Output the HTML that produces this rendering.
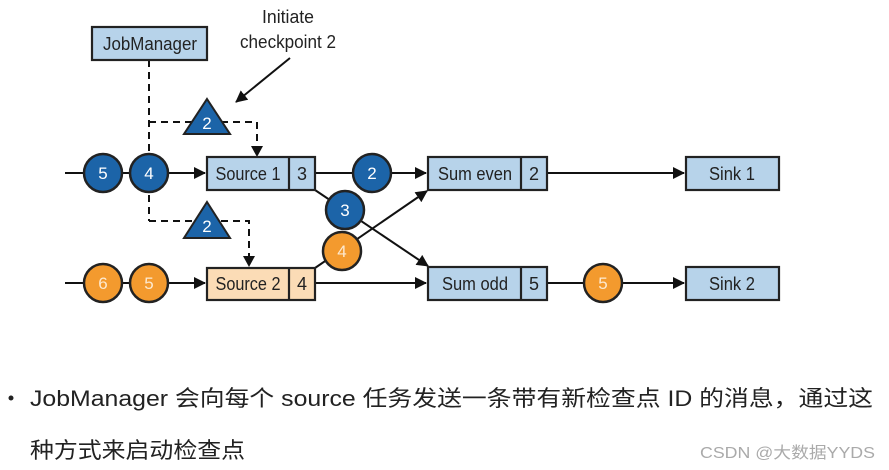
<!DOCTYPE html>
<html><head><meta charset="utf-8"><style>
html,body{margin:0;padding:0;background:#fff;width:889px;height:470px;overflow:hidden}
</style></head><body>
<svg width="889" height="470" viewBox="0 0 889 470" xmlns="http://www.w3.org/2000/svg" font-family="Liberation Sans, DejaVu Sans, sans-serif">
<defs>
<marker id="a" markerWidth="12" markerHeight="12" refX="11" refY="6" orient="auto" markerUnits="userSpaceOnUse"><path d="M0,0 L12,6 L0,12 z" fill="#111"/></marker>
</defs>
<g stroke="#111" stroke-width="2" fill="none">
<g stroke-dasharray="7,5">
<path d="M149,60 V155"/><path d="M149,195 V221"/>
<path d="M149,122 H257 V146"/><path d="M149,221 H249 V256"/>
</g>
<path d="M65,173 H205" marker-end="url(#a)"/>
<path d="M65,283 H205" marker-end="url(#a)"/>
<path d="M315,173 H426" marker-end="url(#a)"/>
<path d="M315,283 H426" marker-end="url(#a)"/>
<path d="M547,173 H684" marker-end="url(#a)"/>
<path d="M547,283 H684" marker-end="url(#a)"/>
<path d="M315,190 L428,266" marker-end="url(#a)"/>
<path d="M315,268 L427,191" marker-end="url(#a)"/>
<path d="M290,58 L236,102" marker-end="url(#a)"/>
</g>
<g fill="#111"><path d="M251,146 h12 l-6,11z"/><path d="M243,256 h12 l-6,11z"/></g>
<g stroke="#222" stroke-width="2.2">
<rect x="92" y="27" width="115" height="33" fill="#b7d3ea"/>
<rect x="207" y="157" width="108" height="33" fill="#b7d3ea"/>
<line x1="289" y1="157" x2="289" y2="190"/>
<rect x="207" y="268" width="108" height="32" fill="#fbdcb6"/>
<line x1="289" y1="268" x2="289" y2="300"/>
<rect x="428" y="157" width="119" height="33" fill="#b7d3ea"/>
<line x1="521" y1="157" x2="521" y2="190"/>
<rect x="428" y="267" width="119" height="33" fill="#b7d3ea"/>
<line x1="521" y1="267" x2="521" y2="300"/>
<rect x="686" y="157" width="93" height="33" fill="#b7d3ea"/>
<rect x="686" y="267" width="93" height="33" fill="#b7d3ea"/>
</g>
<g font-size="18" fill="#222" text-anchor="middle" lengthAdjust="spacingAndGlyphs">
<text x="150" y="50" textLength="94" lengthAdjust="spacingAndGlyphs">JobManager</text>
<text x="248" y="180" textLength="65" lengthAdjust="spacingAndGlyphs">Source 1</text><text x="302" y="180">3</text>
<text x="248" y="290" textLength="65" lengthAdjust="spacingAndGlyphs">Source 2</text><text x="302" y="290">4</text>
<text x="475" y="180" textLength="74" lengthAdjust="spacingAndGlyphs">Sum even</text><text x="534" y="180">2</text>
<text x="475" y="290" textLength="66" lengthAdjust="spacingAndGlyphs">Sum odd</text><text x="534" y="290">5</text>
<text x="732" y="180" textLength="46" lengthAdjust="spacingAndGlyphs">Sink 1</text><text x="732" y="290" textLength="46" lengthAdjust="spacingAndGlyphs">Sink 2</text>
<text x="288" y="23" textLength="52" lengthAdjust="spacingAndGlyphs">Initiate</text><text x="288" y="48" textLength="96" lengthAdjust="spacingAndGlyphs">checkpoint 2</text>
</g>
<g stroke="#222" stroke-width="2" fill="#1c64a8">
<path d="M207,99 L230,134 L184,134 z"/>
<path d="M207,202 L230,238 L184,238 z"/>
</g>
<g stroke="#222" stroke-width="2.5">
<circle cx="103" cy="173" r="19" fill="#1c64a8"/>
<circle cx="149" cy="173" r="19" fill="#1c64a8"/>
<circle cx="372" cy="173" r="19" fill="#1c64a8"/>
<circle cx="345" cy="210" r="19" fill="#1c64a8"/>
<circle cx="342" cy="251" r="19" fill="#f39a2e"/>
<circle cx="103" cy="283" r="19" fill="#f39a2e"/>
<circle cx="149" cy="283" r="19" fill="#f39a2e"/>
<circle cx="603" cy="283" r="19" fill="#f39a2e"/>
</g>
<g font-size="17" fill="#fff" text-anchor="middle">
<text x="207" y="129">2</text><text x="207" y="232">2</text>
<text x="103" y="179">5</text><text x="149" y="179">4</text>
<text x="372" y="179">2</text><text x="345" y="216">3</text>
<text x="342" y="257" fill="#fde9cf">4</text><text x="103" y="289" fill="#fde9cf">6</text>
<text x="149" y="289" fill="#fde9cf">5</text><text x="603" y="289" fill="#fde9cf">5</text>
</g>
<circle cx="11" cy="398" r="2.5" fill="#222"/>
<g font-family="Liberation Sans, Noto Sans CJK SC, sans-serif" fill="#222" font-size="22">
<text x="30" y="406" textLength="843" lengthAdjust="spacingAndGlyphs">JobManager 会向每个 source 任务发送一条带有新检查点 ID 的消息，通过这</text>
<text x="30" y="458" textLength="215" lengthAdjust="spacingAndGlyphs">种方式来启动检查点</text>
</g>
<text x="700" y="458" font-family="Liberation Sans, Noto Sans CJK SC, sans-serif" font-size="16" fill="#aaa" textLength="175" lengthAdjust="spacingAndGlyphs">CSDN @大数据YYDS</text>
</svg>
</body></html>
